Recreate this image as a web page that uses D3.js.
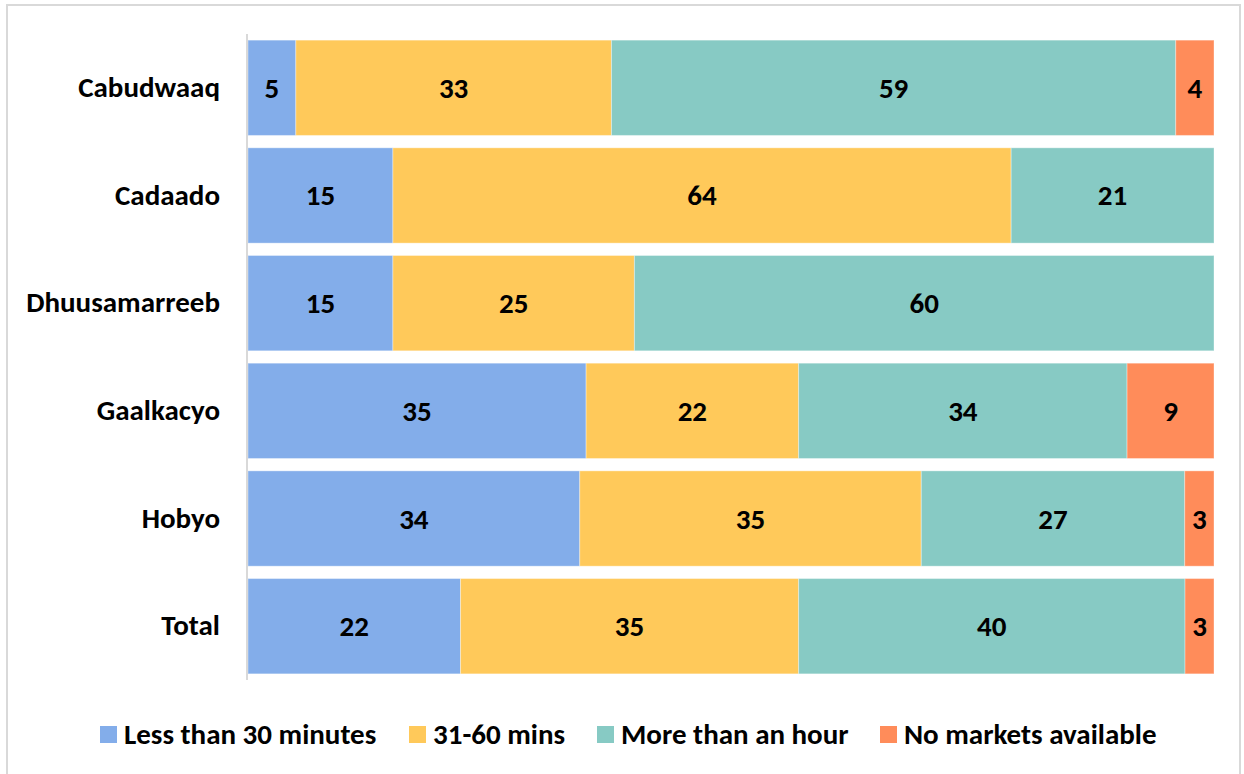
<!DOCTYPE html>
<html>
<head>
<meta charset="utf-8">
<script src="https://cdn.jsdelivr.net/npm/d3@7"></script>
<style>
  html, body { margin: 0; padding: 0; background: #fff; }
  svg { display: block; }
  text { font-family: Calibri, Carlito, Lato, "Open Sans", sans-serif; font-weight: 700; fill: #000; }
</style>
</head>
<body>
<svg id="chart" width="1244" height="774"></svg>
<script>
// Time taken to reach the nearest market, % of households by district
const districts = ["Cabudwaaq", "Cadaado", "Dhuusamarreeb", "Gaalkacyo", "Hobyo", "Total"];
const seriesNames = ["Less than 30 minutes", "31-60 mins", "More than an hour", "No markets available"];
const lessThan30 = [5, 15, 15, 35, 34, 22];
const mins31to60 = [33, 64, 25, 22, 35, 35];
const moreThanHour = [59, 21, 60, 34, 27, 40];
const noMarkets = [4, 0, 0, 9, 3, 3];
const colors = ["#83ADEA", "#FFC95A", "#87CAC4", "#FF8C5A"];

const rows = districts.map((d, i) => ({
  district: d,
  [seriesNames[0]]: lessThan30[i],
  [seriesNames[1]]: mins31to60[i],
  [seriesNames[2]]: moreThanHour[i],
  [seriesNames[3]]: noMarkets[i]
}));

const svg = d3.select("#chart");
const FS = "29px";

// outer frame
svg.append("rect")
  .attr("x", 7).attr("y", 5).attr("width", 1233).attr("height", 790)
  .attr("fill", "none").attr("stroke", "#d9d9d9").attr("stroke-width", 2);

const plot = { left: 248, right: 1214, top: 34, bottom: 680 };

const x = d3.scaleLinear().domain([0, 1]).range([plot.left, plot.right]);
const y = d3.scaleBand().domain(districts).range([plot.top, plot.bottom]).paddingInner(0.115).paddingOuter(0.057);

// each row is shown as shares of its own total
const stack = d3.stack().keys(seriesNames).offset(d3.stackOffsetExpand);
const layers = stack(rows);

const g = svg.append("g");
layers.forEach((layer, li) => {
  const grp = g.append("g");
  layer.forEach((seg, ri) => {
    const v = rows[ri][layer.key];
    if (!v) return;
    const x0 = x(seg[0]), x1 = x(seg[1]);
    grp.append("rect")
      .attr("x", x0).attr("y", y(rows[ri].district))
      .attr("width", x1 - x0).attr("height", y.bandwidth())
      .attr("fill", colors[li])
      .attr("stroke", "#fff").attr("stroke-opacity", 0.35).attr("stroke-width", 1);
    grp.append("text")
      .attr("x", (x0 + x1) / 2)
      .attr("y", y(rows[ri].district) + y.bandwidth() / 2)
      .attr("text-anchor", "middle").attr("dominant-baseline", "central")
      .style("font-size", FS)
      .text(v);
  });
});

// category axis
const yAxis = d3.axisLeft(y).tickSize(0).tickPadding(27);
const ax = svg.append("g").attr("transform", `translate(${plot.left - 1},0)`).call(yAxis);
ax.select(".domain").attr("stroke", "#d9d9d9").attr("stroke-width", 2)
  .attr("d", `M0,${plot.top}V${plot.bottom}`);
ax.selectAll(".tick text")
  .style("font-size", FS)
  .style("font-family", "Calibri, Carlito, Lato, 'Open Sans', sans-serif")
  .style("font-weight", 700).attr("fill", "#000");

// legend
const legendX = [100, 409, 597, 880];
const legend = svg.append("g");
seriesNames.forEach((name, i) => {
  legend.append("rect")
    .attr("x", legendX[i]).attr("y", 726).attr("width", 17).attr("height", 17)
    .attr("fill", colors[i]);
  legend.append("text")
    .attr("x", legendX[i] + 24).attr("y", 744)
    .style("font-size", FS)
    .text(name);
});
</script>
</body>
</html>
